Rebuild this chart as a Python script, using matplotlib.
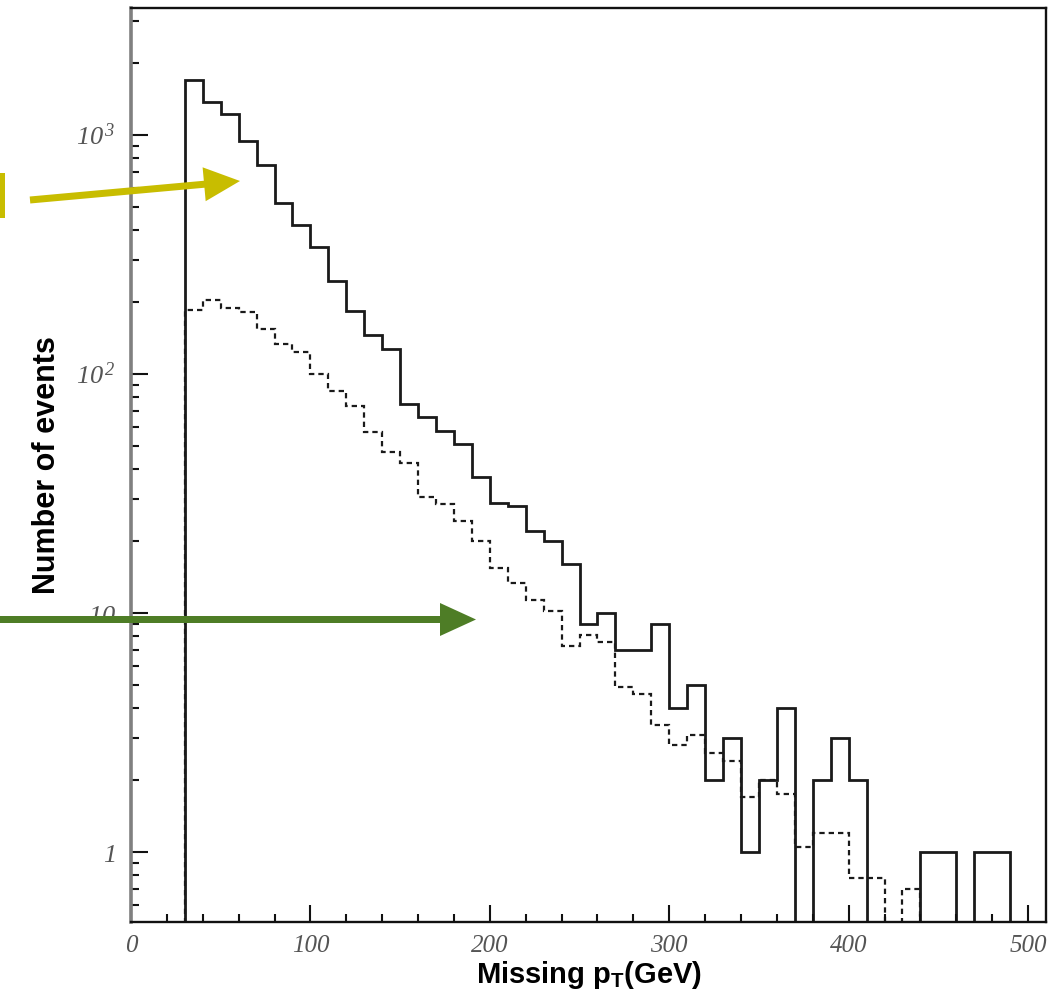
import numpy as np
import matplotlib
matplotlib.use("Agg")
import matplotlib.pyplot as plt
from matplotlib.patches import FancyArrow, Rectangle
from matplotlib.transforms import IdentityTransform
from matplotlib.ticker import FixedLocator, LogLocator, NullFormatter

plt.rcParams["mathtext.fontset"] = "custom"
plt.rcParams["mathtext.it"] = "Liberation Serif:italic"
plt.rcParams["mathtext.rm"] = "Liberation Serif:italic"
plt.rcParams["mathtext.bf"] = "Liberation Sans:bold"

# Missing-pT histograms, 10 GeV bins from 30 to 490 GeV
bin_edges = np.arange(30, 500, 10)
signal_counts = [1700, 1370, 1230, 940, 750, 520, 420,
                 340, 245, 184, 145, 127, 75, 66, 58, 51, 37,
                 29, 28, 22, 20, 16, 9, 10, 7, 7, 9,
                 4, 5, 2, 3, 1, 2, 4, 0, 2, 3,
                 2, 0, 0, 0, 1, 1, 0, 1, 1]
background_counts = [186, 205, 189, 182, 155, 134, 124,
                     100, 85, 73.5, 57.4, 47, 42.3, 30.5, 28.6, 24.3, 20,
                     15.5, 13.4, 11.3, 10.2, 7.3, 8.1, 7.6, 4.9, 4.6, 3.4,
                     2.8, 3.1, 2.6, 2.4, 1.7, 2.0, 1.75, 1.05, 1.2, 1.2,
                     0.78, 0.78, 0, 0.7, 0, 0, 0, 0, 0]

x_major_ticks = [0, 100, 200, 300, 400, 500]
x_tick_labels = ["0", "100", "200", "300", "400", "500"]
y_major_ticks = [1, 10, 100, 1000]
y_tick_labels = [r"$\mathit{1}$", r"$\mathit{10}$",
                 r"$\mathit{10}^{\,\mathit{2}}$", r"$\mathit{10}^{\,\mathit{3}}$"]

W, H = 1061, 997
fig = plt.figure(figsize=(W / 100, H / 100), dpi=100)
ax = fig.add_axes([131 / W, (H - 922) / H, (1046 - 131) / W, (922 - 8) / H])

ax.set_yscale("log")
ax.stairs(signal_counts, bin_edges, baseline=0, color="#1a1a1a", lw=2.0)
ax.stairs(background_counts, bin_edges, baseline=0, color="#1a1a1a", lw=1.6,
          linestyle=(0, (2.4, 1.8)))

ax.set_xlim(0, 510)
ax.set_ylim(0.51, 3400)

# ticks
ax.xaxis.set_major_locator(FixedLocator(x_major_ticks))
ax.xaxis.set_minor_locator(FixedLocator(np.arange(0, 511, 20)))
ax.set_xticklabels(x_tick_labels)
ax.yaxis.set_major_locator(FixedLocator(y_major_ticks))
ax.yaxis.set_minor_locator(LogLocator(base=10, subs=np.arange(2, 10)))
ax.yaxis.set_minor_formatter(NullFormatter())
ax.set_yticklabels(y_tick_labels)

ax.tick_params(axis="both", which="both", direction="in", top=False, right=False,
               color="#111111")
ax.tick_params(axis="both", which="major", length=12, width=1.5)
ax.tick_params(axis="both", which="minor", length=6, width=1.5)
ax.tick_params(axis="x", which="major", pad=9)
ax.tick_params(axis="y", which="major", pad=11)
for lab in ax.get_xticklabels():
    lab.set_fontfamily("Liberation Serif")
    lab.set_fontstyle("italic")
    lab.set_fontsize(18)
    lab.set_color("#555555")
for lab in ax.get_yticklabels():
    lab.set_fontsize(19)
    lab.set_color("#555555")

for side in ["top", "right", "bottom"]:
    ax.spines[side].set_linewidth(1.7)
    ax.spines[side].set_color("#111111")
ax.spines["left"].set_linewidth(2.6)
ax.spines["left"].set_color("#808080")

ax.set_xlabel(r"Missing p$_\mathbf{T}$(GeV)", fontfamily="Liberation Sans",
              fontweight="bold", fontsize=21, labelpad=2)
ax.set_ylabel("Number of events", fontfamily="Liberation Sans",
              fontweight="bold", fontsize=22, labelpad=10)

# annotation arrows (pixel coordinates)
ident = IdentityTransform()
yellow = "#c8bd00"
green = "#4e7d26"
fig.add_artist(Rectangle((0, H - 218), 5, 45, transform=ident,
                         facecolor=yellow, edgecolor="none"))
fig.add_artist(FancyArrow(30, H - 200, 210, 19, width=7, head_width=34,
                          head_length=36, length_includes_head=True,
                          transform=ident, color=yellow, lw=0))
fig.add_artist(FancyArrow(0, H - 619.5, 476, 0, width=7, head_width=33,
                          head_length=36, length_includes_head=True,
                          transform=ident, color=green, lw=0))

fig.savefig("out.png", dpi=100)
